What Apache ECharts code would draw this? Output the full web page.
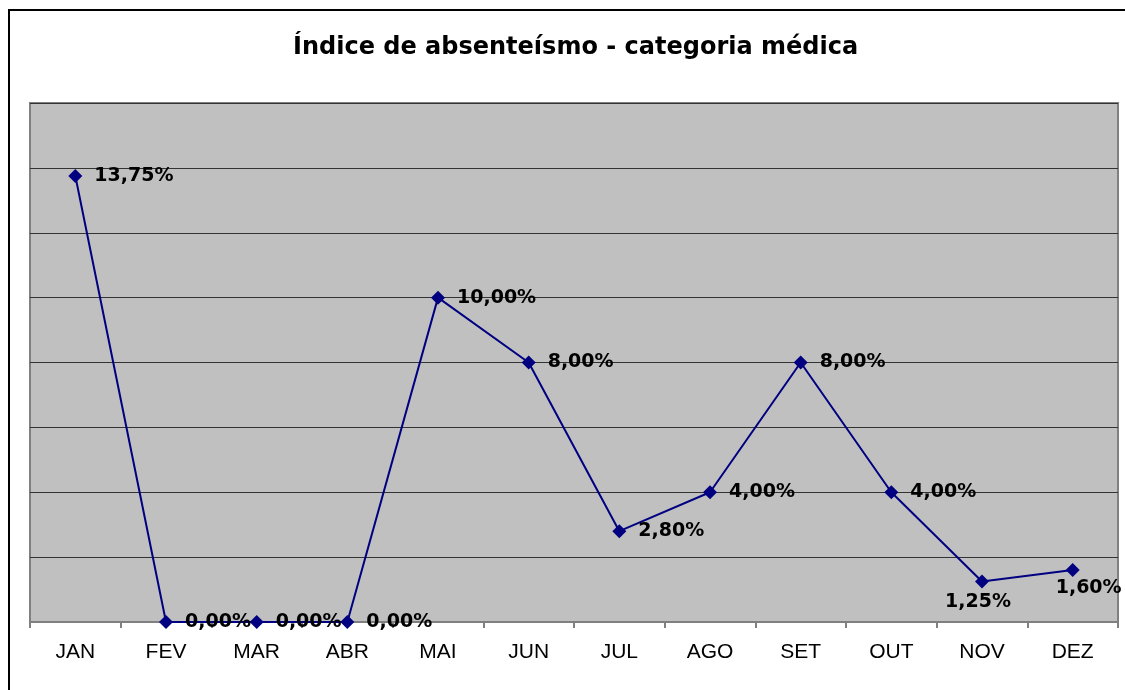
<!DOCTYPE html>
<html>
<head>
<meta charset="utf-8">
<script src="https://cdn.jsdelivr.net/npm/echarts@6/dist/echarts.min.js"></script>
<style>
  html, body { margin: 0; padding: 0; background: #fff; }
  #lineChart { width: 1125px; height: 690px; }
</style>
</head>
<body>
<div id="lineChart"></div>
<script>
const titleName = 'Índice de absenteísmo - categoria médica';
const months = ['JAN', 'FEV', 'MAR', 'ABR', 'MAI', 'JUN', 'JUL', 'AGO', 'SET', 'OUT', 'NOV', 'DEZ'];
const absenteeism = [13.75, 0, 0, 0, 10, 8, 2.8, 4, 8, 4, 1.25, 1.6];
const yTicks = [0, 16, 2]; // min, max, interval

const lineChart = echarts.init(document.getElementById('lineChart'));

// most labels sit to the right of the point, the last two below
let seriesData = absenteeism.map((v, i) => {
  let item = { value: v };
  if (i === 10) {
    item.label = { position: 'bottom', distance: 4, offset: [-4, 0] };
  } else if (i === 11) {
    item.label = { position: 'bottom', distance: 1, offset: [16, 0] };
  }
  return item;
});

let options = {
  title: {
    text: titleName,
    left: 288,
    top: 31,
    textStyle: {
      fontFamily: 'DejaVu Sans',
      fontSize: 24,
      fontWeight: 'bold',
      color: '#000',
    },
  },
  graphic: [
    {
      type: 'rect',
      shape: { x: 9, y: 10, width: 1200, height: 720 },
      style: { fill: 'none', stroke: '#000', lineWidth: 2 },
      silent: true,
    },
  ],
  grid: {
    left: 30,
    right: 7,
    top: 103,
    bottom: 68,
    show: true,
    backgroundColor: '#c0c0c0',
    borderColor: '#808080',
    borderWidth: 2,
  },
  xAxis: {
    type: 'category',
    data: months,
    boundaryGap: true,
    axisLine: { lineStyle: { color: '#808080', width: 2 } },
    axisTick: { show: true, length: 6, lineStyle: { color: '#808080', width: 2 } },
    axisLabel: {
      color: '#000',
      fontFamily: 'Liberation Sans',
      fontSize: 21,
      margin: 20,
    },
  },
  yAxis: {
    type: 'value',
    min: yTicks[0],
    max: yTicks[1],
    interval: yTicks[2],
    axisLine: { show: false },
    axisTick: { show: false },
    axisLabel: { show: false },
    splitLine: { lineStyle: { color: '#333', width: 1 } },
  },
  series: [
    {
      type: 'line',
      data: seriesData,
      symbol: 'diamond',
      symbolSize: 14,
      itemStyle: { color: '#000080' },
      lineStyle: { color: '#000080', width: 2 },
      label: {
        show: true,
        position: 'right',
        distance: 12,
        fontFamily: 'DejaVu Sans',
        fontSize: 19,
        fontWeight: 'bold',
        color: '#000',
        formatter: (p) => p.value.toFixed(2).replace('.', ',') + '%',
      },
      z: 3,
    },
  ],
};

lineChart.setOption(options);
</script>
</body>
</html>
